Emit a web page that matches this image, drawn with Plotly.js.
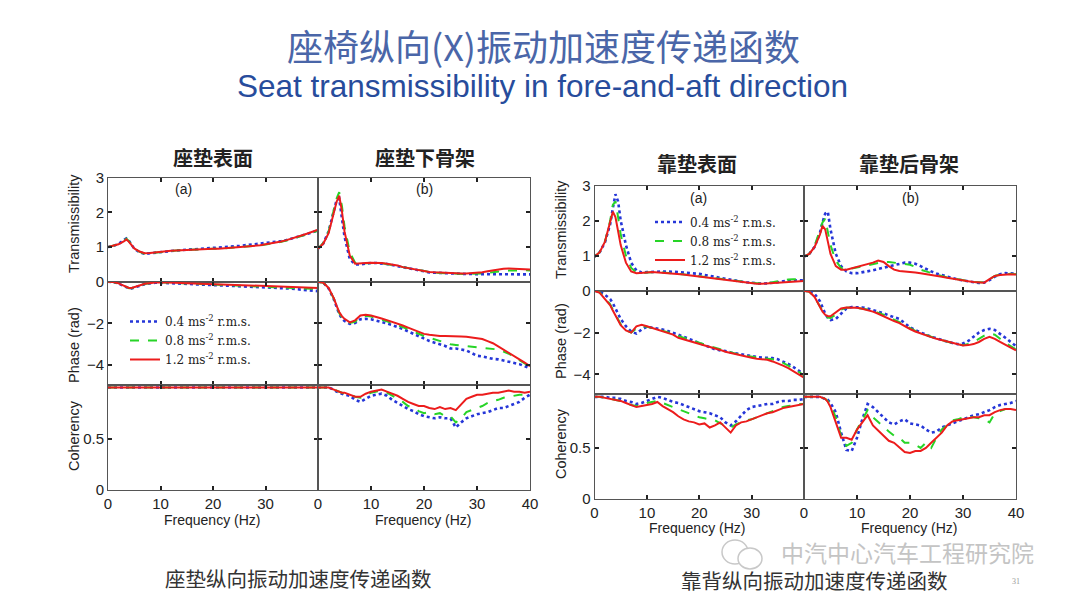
<!DOCTYPE html>
<html><head><meta charset="utf-8">
<script src="https://cdn.plot.ly/plotly-3.0.1.min.js"></script>
<style>html,body{margin:0;padding:0;background:#fff}#chart{width:1080px;height:606px}</style>
</head><body><div id="chart"></div>
<script>
// ---------- DATA ----------
const freq = [0,1,2,3,3.5,4,4.5,5,6,7,8,9,10,11,12,13,14,15,16,17,18,19,20,21,22,23,24,25,26,27,28,29,30,31,32,33,34,35,36,37,38,39,40];
const xTickValsA = [0,10,20,30];
const xTickValsB = [0,10,20,30,40];
const legendNames = ['0.4 ms<sup>-2</sup> r.m.s.','0.8 ms<sup>-2</sup> r.m.s.','1.2 ms<sup>-2</sup> r.m.s.'];
const panelTitles = ['座垫表面','座垫下骨架','靠垫表面','靠垫后骨架'];
const yTitles = ['Transmissibility','Phase (rad)','Coherency'];

// Seat surface (left a)
const seatSurf_T_04 = [1.00,1.03,1.09,1.18,1.25,1.18,1.05,0.95, 0.85,0.80,0.82,0.84,0.86,0.88,0.89,0.90,0.91,0.92, 0.93,0.94,0.95,0.96,0.97,0.98,0.99,1.00,1.01,1.03, 1.05,1.06,1.08,1.10,1.12,1.13,1.15,1.17,1.20,1.24, 1.28,1.33,1.38,1.43,1.48];
const seatSurf_T_08 = [1.00,1.03,1.08,1.17,1.24,1.17,1.05,0.96, 0.86,0.81,0.82,0.84,0.86,0.87,0.89,0.90,0.91,0.92, 0.92,0.93,0.93,0.94,0.95,0.95,0.96,0.97,0.98,0.99, 1.00,1.01,1.03,1.05,1.07,1.09,1.12,1.15,1.19,1.23, 1.27,1.32,1.37,1.42,1.47];
const seatSurf_T_12 = [1.00,1.03,1.08,1.16,1.22,1.15,1.04,0.96, 0.87,0.82,0.83,0.85,0.87,0.88,0.89,0.90,0.91,0.92, 0.92,0.93,0.93,0.94,0.95,0.95,0.96,0.97,0.98,0.99, 1.00,1.01,1.03,1.05,1.08,1.10,1.13,1.16,1.20,1.24, 1.29,1.34,1.39,1.45,1.50];
const seatSurf_P_04 = [0,-0.02,-0.09,-0.21,-0.28,-0.32,-0.32,-0.29, -0.20,-0.12,-0.07,-0.05,-0.05,-0.06,-0.07,-0.08,-0.09,-0.10, -0.12,-0.13,-0.14,-0.15,-0.17,-0.18,-0.19,-0.20,-0.21,-0.22, -0.23,-0.24,-0.25,-0.26,-0.27,-0.28,-0.29,-0.30,-0.32,-0.34, -0.36,-0.38,-0.40,-0.42,-0.45];
const seatSurf_P_08 = [0,-0.02,-0.08,-0.20,-0.27,-0.31,-0.31,-0.28, -0.19,-0.11,-0.06,-0.04,-0.03,-0.04,-0.05,-0.06,-0.07,-0.08, -0.09,-0.10,-0.11,-0.12,-0.13,-0.14,-0.15,-0.16,-0.17,-0.18, -0.19,-0.20,-0.21,-0.22,-0.23,-0.24,-0.25,-0.26,-0.27,-0.28, -0.29,-0.30,-0.31,-0.33,-0.35];
const seatSurf_P_12 = [0,-0.02,-0.08,-0.20,-0.27,-0.30,-0.30,-0.27, -0.18,-0.10,-0.06,-0.04,-0.03,-0.03,-0.04,-0.05,-0.06,-0.07, -0.08,-0.09,-0.10,-0.10,-0.11,-0.12,-0.12,-0.13,-0.14,-0.15, -0.16,-0.17,-0.18,-0.19,-0.20,-0.20,-0.21,-0.22,-0.23,-0.24, -0.25,-0.26,-0.27,-0.28,-0.30];
const seatSurf_C_04 = [1,1,1,1,1,1,1,1, 1,1,1,1,1,1,1,1,1,1, 1,1,1,1,1,1,1,1,1,1, 1,1,1,1,1,1,1,1,1,1, 1,1,1,1,1];
const seatSurf_C_08 = [1,1,1,1,1,1,1,1, 1,1,1,1,1,1,1,1,1,1, 1,1,1,1,1,1,1,1,1,1, 1,1,1,1,1,1,1,1,1,1, 1,1,1,1,1];
const seatSurf_C_12 = [1,1,1,1,1,1,1,1, 1,1,1,1,1,1,1,1,1,1, 1,1,1,1,1,1,1,1,1,1, 1,1,1,1,1,1,1,1,1,1, 1,1,1,1,1];

// Seat frame (left b)
const seatFrame_T_04 = [0.95,1.10,1.45,2.05,2.35,2.40,1.90,1.30, 0.65,0.50,0.50,0.53,0.54,0.54,0.53,0.51,0.48,0.45, 0.41,0.38,0.35,0.32,0.29,0.27,0.26,0.25,0.24,0.23, 0.23,0.22,0.22,0.22,0.22,0.22,0.22,0.21,0.22,0.22, 0.22,0.22,0.22,0.21,0.21];
const seatFrame_T_08 = [0.95,1.12,1.45,2.10,2.40,2.58,2.20,1.60, 0.85,0.55,0.51,0.53,0.54,0.54,0.53,0.51,0.49,0.46, 0.42,0.39,0.36,0.33,0.30,0.28,0.26,0.25,0.24,0.23, 0.23,0.23,0.22,0.23,0.23,0.24,0.26,0.28,0.30,0.31, 0.32,0.32,0.33,0.33,0.32];
const seatFrame_T_12 = [0.95,1.10,1.40,2.00,2.30,2.48,2.05,1.45, 0.75,0.52,0.52,0.54,0.55,0.55,0.54,0.52,0.50,0.47, 0.42,0.39,0.36,0.33,0.30,0.28,0.27,0.26,0.25,0.24, 0.24,0.24,0.24,0.25,0.25,0.27,0.30,0.33,0.35,0.37, 0.38,0.37,0.38,0.36,0.35];
const seatFrame_P_04 = [0,-0.05,-0.32,-0.85,-1.20,-1.55,-1.75,-1.88, -2.02,-1.98,-1.80,-1.78,-1.80,-1.86,-1.93,-2.00,-2.08,-2.16, -2.27,-2.38,-2.50,-2.62,-2.75,-2.84,-2.92,-3.00,-3.08,-3.20, -3.20,-3.25,-3.30,-3.42,-3.55,-3.58,-3.65,-3.70,-3.72,-3.77, -3.82,-3.90,-3.95,-4.05,-4.15];
const seatFrame_P_08 = [0,-0.05,-0.30,-0.82,-1.18,-1.50,-1.70,-1.82, -1.98,-1.92,-1.68,-1.63,-1.67,-1.73,-1.82,-1.90,-1.98,-2.07, -2.17,-2.28,-2.40,-2.50,-2.60,-2.68,-2.76,-2.84,-2.92,-3.00, -3.03,-3.06,-3.10,-3.12,-3.15,-3.17,-3.20,-3.22,-3.25,-3.35, -3.45,-3.60,-3.75,-3.92,-4.10];
const seatFrame_P_12 = [0,-0.05,-0.30,-0.80,-1.15,-1.45,-1.65,-1.78, -1.95,-1.85,-1.62,-1.58,-1.62,-1.68,-1.76,-1.84,-1.92,-2.00, -2.10,-2.20,-2.31,-2.40,-2.50,-2.54,-2.58,-2.60,-2.60,-2.62, -2.62,-2.63,-2.64,-2.67,-2.70,-2.75,-2.85,-2.95,-3.10,-3.25, -3.40,-3.55,-3.70,-3.88,-4.05];
const seatFrame_C_04 = [1.00,1.00,1.00,0.98,0.96,0.95,0.94,0.93, 0.92,0.88,0.86,0.89,0.92,0.93,0.94,0.92,0.88,0.85, 0.82,0.79,0.77,0.74,0.72,0.71,0.70,0.71,0.70,0.70, 0.61,0.66,0.70,0.72,0.74,0.75,0.76,0.78,0.80,0.80, 0.82,0.84,0.86,0.90,0.93];
const seatFrame_C_08 = [1.00,1.00,1.00,0.98,0.97,0.96,0.95,0.94, 0.93,0.91,0.90,0.92,0.95,0.96,0.97,0.95,0.92,0.89, 0.86,0.82,0.80,0.77,0.75,0.76,0.74,0.75,0.72,0.72, 0.66,0.70,0.76,0.78,0.80,0.82,0.85,0.87,0.88,0.90, 0.91,0.92,0.93,0.93,0.94];
const seatFrame_C_12 = [1.00,1.00,1.00,0.98,0.97,0.96,0.95,0.95, 0.93,0.91,0.91,0.94,0.96,0.97,0.98,0.96,0.94,0.92, 0.89,0.86,0.84,0.82,0.82,0.80,0.79,0.81,0.79,0.80, 0.78,0.84,0.89,0.91,0.93,0.93,0.94,0.95,0.95,0.96, 0.97,0.96,0.96,0.95,0.96];

// Backrest surface (right a)
const backSurf_T_04 = [0.97,1.10,1.38,1.90,2.35,2.75,2.55,2.00, 1.30,0.80,0.58,0.52,0.53,0.54,0.55,0.55,0.55,0.54, 0.53,0.52,0.51,0.50,0.48,0.45,0.42,0.39,0.36,0.33, 0.30,0.28,0.26,0.24,0.22,0.21,0.20,0.21,0.22,0.24, 0.27,0.29,0.30,0.30,0.30];
const backSurf_T_08 = [0.97,1.10,1.40,2.00,2.45,2.55,2.10,1.60, 1.00,0.65,0.52,0.50,0.52,0.53,0.53,0.52,0.51,0.50, 0.49,0.47,0.45,0.43,0.41,0.39,0.37,0.35,0.33,0.31, 0.29,0.27,0.25,0.23,0.22,0.21,0.21,0.22,0.24,0.27, 0.30,0.32,0.33,0.33,0.33];
const backSurf_T_12 = [0.97,1.10,1.40,1.95,2.25,2.10,1.70,1.30, 0.80,0.55,0.50,0.50,0.52,0.53,0.52,0.52,0.50,0.50, 0.48,0.46,0.44,0.42,0.40,0.38,0.36,0.34,0.32,0.30, 0.28,0.26,0.24,0.22,0.21,0.20,0.20,0.21,0.22,0.24, 0.26,0.27,0.28,0.28,0.28];
const backSurf_P_04 = [0,-0.05,-0.20,-0.40,-0.60,-0.85,-1.10,-1.35, -1.70,-1.95,-2.05,-1.85,-1.72,-1.76,-1.80,-1.86,-1.93,-2.00, -2.10,-2.20,-2.30,-2.40,-2.50,-2.60,-2.70,-2.80,-2.85,-2.88, -2.95,-3.00,-3.05,-3.10,-3.14,-3.17,-3.20,-3.20,-3.22,-3.28, -3.38,-3.50,-3.65,-3.82,-4.00];
const backSurf_P_08 = [0,-0.08,-0.35,-0.65,-0.90,-1.15,-1.40,-1.60, -1.88,-2.00,-1.80,-1.68,-1.72,-1.78,-1.83,-1.90,-1.98,-2.07, -2.17,-2.25,-2.33,-2.42,-2.50,-2.57,-2.65,-2.72,-2.80,-2.88, -2.95,-3.02,-3.08,-3.12,-3.15,-3.18,-3.20,-3.22,-3.28,-3.36, -3.45,-3.58,-3.72,-3.88,-4.05];
const backSurf_P_12 = [0,-0.10,-0.40,-0.70,-0.95,-1.20,-1.45,-1.65, -1.90,-2.00,-1.70,-1.63,-1.70,-1.78,-1.85,-1.93,-2.02,-2.10, -2.25,-2.32,-2.38,-2.45,-2.52,-2.60,-2.68,-2.75,-2.83,-2.92, -2.98,-3.05,-3.10,-3.15,-3.20,-3.25,-3.28,-3.30,-3.38,-3.47, -3.58,-3.70,-3.85,-4.00,-4.15];
const backSurf_C_04 = [1.00,1.00,1.00,0.99,0.99,0.99,0.98,0.98, 0.96,0.95,0.93,0.94,0.96,0.98,1.00,0.99,0.97,0.95, 0.94,0.92,0.90,0.88,0.86,0.85,0.84,0.82,0.80,0.75, 0.72,0.76,0.82,0.87,0.90,0.91,0.92,0.93,0.93,0.95, 0.96,0.96,0.97,0.97,0.98];
const backSurf_C_08 = [1.00,1.00,0.99,0.98,0.98,0.97,0.97,0.96, 0.94,0.92,0.91,0.92,0.94,0.95,0.96,0.94,0.92,0.90, 0.88,0.86,0.84,0.82,0.80,0.79,0.78,0.77,0.74,0.72, 0.70,0.73,0.75,0.77,0.78,0.80,0.82,0.84,0.86,0.88, 0.90,0.91,0.92,0.93,0.93];
const backSurf_C_12 = [1.00,1.00,0.99,0.98,0.98,0.97,0.97,0.96, 0.94,0.92,0.90,0.91,0.92,0.93,0.95,0.91,0.88,0.85, 0.81,0.78,0.76,0.75,0.73,0.74,0.70,0.72,0.75,0.70, 0.65,0.72,0.75,0.76,0.78,0.80,0.82,0.84,0.85,0.87, 0.89,0.90,0.91,0.92,0.93];

// Backrest frame (right b)
const backFrame_T_04 = [0.97,1.05,1.25,1.65,1.95,2.20,2.25,1.75, 1.05,0.70,0.55,0.50,0.50,0.52,0.55,0.58,0.62,0.66, 0.70,0.74,0.78,0.80,0.80,0.77,0.70,0.62,0.55,0.49, 0.44,0.40,0.36,0.32,0.29,0.26,0.23,0.22,0.23,0.30, 0.40,0.47,0.50,0.50,0.49];
const backFrame_T_08 = [0.97,1.05,1.28,1.70,1.95,2.05,1.70,1.30, 0.85,0.65,0.60,0.63,0.66,0.69,0.72,0.76,0.80,0.82, 0.82,0.80,0.78,0.77,0.74,0.68,0.60,0.55,0.50,0.46, 0.42,0.38,0.35,0.32,0.30,0.27,0.25,0.24,0.24,0.32, 0.42,0.46,0.48,0.48,0.47];
const backFrame_T_12 = [0.97,1.05,1.25,1.60,1.85,1.75,1.40,1.05, 0.70,0.60,0.60,0.64,0.67,0.70,0.74,0.80,0.86,0.82, 0.70,0.60,0.56,0.55,0.55,0.52,0.50,0.48,0.46,0.43, 0.40,0.37,0.34,0.31,0.29,0.27,0.25,0.23,0.23,0.33, 0.42,0.45,0.47,0.47,0.46];
const backFrame_P_04 = [0,-0.02,-0.15,-0.50,-0.80,-1.10,-1.30,-1.40, -1.35,-1.10,-0.85,-0.78,-0.78,-0.80,-0.85,-0.92,-1.00,-1.08, -1.18,-1.25,-1.35,-1.55,-1.75,-1.88,-2.00,-2.10,-2.20,-2.28, -2.35,-2.42,-2.50,-2.55,-2.52,-2.40,-2.20,-2.00,-1.88,-1.82, -1.88,-2.05,-2.25,-2.45,-2.65];
const backFrame_P_08 = [0,-0.05,-0.30,-0.78,-1.03,-1.20,-1.28,-1.30, -1.15,-0.90,-0.82,-0.80,-0.82,-0.85,-0.90,-0.97,-1.05,-1.15, -1.27,-1.38,-1.50,-1.65,-1.80,-1.92,-2.02,-2.12,-2.20,-2.28, -2.35,-2.42,-2.50,-2.58,-2.60,-2.55,-2.45,-2.30,-2.15,-2.05, -2.10,-2.30,-2.50,-2.65,-2.80];
const backFrame_P_12 = [0,-0.05,-0.30,-0.75,-1.00,-1.15,-1.22,-1.22, -1.05,-0.85,-0.80,-0.80,-0.82,-0.86,-0.92,-1.00,-1.10,-1.22, -1.35,-1.45,-1.55,-1.70,-1.83,-1.95,-2.05,-2.15,-2.22,-2.30, -2.37,-2.43,-2.50,-2.57,-2.62,-2.60,-2.55,-2.45,-2.30,-2.20, -2.30,-2.45,-2.60,-2.72,-2.85];
const backFrame_C_04 = [1.00,1.00,1.00,1.00,0.99,0.98,0.97,0.94, 0.85,0.65,0.48,0.47,0.60,0.78,0.93,0.90,0.85,0.80, 0.75,0.73,0.76,0.78,0.74,0.73,0.72,0.68,0.65,0.66, 0.70,0.72,0.74,0.76,0.78,0.80,0.82,0.83,0.85,0.87, 0.90,0.92,0.93,0.94,0.96];
const backFrame_C_08 = [1.00,1.00,1.00,1.00,0.99,0.98,0.96,0.92, 0.80,0.62,0.52,0.55,0.68,0.78,0.87,0.80,0.75,0.70, 0.66,0.62,0.60,0.55,0.55,0.53,0.50,0.55,0.50,0.60, 0.68,0.72,0.77,0.78,0.80,0.80,0.80,0.79,0.78,0.75, 0.84,0.86,0.88,0.88,0.89];
const backFrame_C_12 = [1.00,1.00,1.00,1.00,0.99,0.98,0.95,0.90, 0.75,0.60,0.60,0.58,0.68,0.75,0.82,0.72,0.67,0.62, 0.57,0.55,0.50,0.46,0.45,0.47,0.47,0.50,0.55,0.60, 0.65,0.72,0.76,0.77,0.78,0.79,0.80,0.80,0.82,0.82, 0.85,0.87,0.88,0.88,0.87];

// ---------- LAYOUT HELPERS ----------
const W = 1080, H = 606;
const px = v => v / W, py = v => 1 - v / H;
const xDom = {LA:[px(108),px(318)], LB:[px(318),px(530)], RA:[px(594.5),px(804)], RB:[px(804),px(1016)]};
const yDom = {
  LT:[py(281.7),py(177.7)], LP:[py(385),py(281.7)], LC:[py(490),py(385)],
  RT:[py(290.7),py(185.5)], RP:[py(394.3),py(290.7)], RC:[py(499),py(394.3)]
};

const kinds = {
  T:{range:[0,3], tickvals:[0,1,2,3]},
  P:{range:[-4.95,0], tickvals:[-4,-2]},
  C:{range:[0,1.025], tickvals:[0,0.5]}
};

const panels = [
  {xd:'LA', yd:'LT', k:'T', d:[seatSurf_T_04,seatSurf_T_08,seatSurf_T_12], left:true, bottom:false, a:true},
  {xd:'LB', yd:'LT', k:'T', d:[seatFrame_T_04,seatFrame_T_08,seatFrame_T_12], left:false, bottom:false},
  {xd:'LA', yd:'LP', k:'P', d:[seatSurf_P_04,seatSurf_P_08,seatSurf_P_12], left:true, bottom:false, a:true, legend:'legend'},
  {xd:'LB', yd:'LP', k:'P', d:[seatFrame_P_04,seatFrame_P_08,seatFrame_P_12], left:false, bottom:false},
  {xd:'LA', yd:'LC', k:'C', d:[seatSurf_C_04,seatSurf_C_08,seatSurf_C_12], left:true, bottom:true, a:true},
  {xd:'LB', yd:'LC', k:'C', d:[seatFrame_C_04,seatFrame_C_08,seatFrame_C_12], left:false, bottom:true},
  {xd:'RA', yd:'RT', k:'T', d:[backSurf_T_04,backSurf_T_08,backSurf_T_12], left:true, bottom:false, a:true, legend:'legend2'},
  {xd:'RB', yd:'RT', k:'T', d:[backFrame_T_04,backFrame_T_08,backFrame_T_12], left:false, bottom:false},
  {xd:'RA', yd:'RP', k:'P', d:[backSurf_P_04,backSurf_P_08,backSurf_P_12], left:true, bottom:false, a:true},
  {xd:'RB', yd:'RP', k:'P', d:[backFrame_P_04,backFrame_P_08,backFrame_P_12], left:false, bottom:false},
  {xd:'RA', yd:'RC', k:'C', d:[backSurf_C_04,backSurf_C_08,backSurf_C_12], left:true, bottom:true, a:true},
  {xd:'RB', yd:'RC', k:'C', d:[backFrame_C_04,backFrame_C_08,backFrame_C_12], left:false, bottom:true}
];

const styles = [
  {color:'#2536d8', dash:'dot', width:2.6},
  {color:'#27d427', dash:'dash', width:2},
  {color:'#ec1c1c', dash:'solid', width:2}
];

const tickFont = {family:'Liberation Sans, Arial, sans-serif', size:15, color:'#222'};
const legFont = {family:'DejaVu Serif, serif', size:12, color:'#222'};
const traces = [];
const layout = {
  width:W, height:H, margin:{l:0,r:0,t:0,b:0},
  paper_bgcolor:'#ffffff', plot_bgcolor:'#ffffff',
  showlegend:true,
  legend:{x:px(125), y:py(307), xanchor:'left', yanchor:'top', bgcolor:'rgba(0,0,0,0)',
          font:legFont, tracegroupgap:0, itemwidth:30},
  legend2:{x:px(650), y:py(207.5), xanchor:'left', yanchor:'top', bgcolor:'rgba(0,0,0,0)',
          font:legFont, tracegroupgap:0, itemwidth:30},
  annotations:[], shapes:[]
};

panels.forEach((p, i) => {
  const n = i + 1;
  const xs = n === 1 ? '' : String(n);
  const kd = kinds[p.k];
  layout['xaxis' + xs] = {
    domain:xDom[p.xd], anchor:'y' + xs, range:[0,40], tickmode:'array',
    tickvals:p.a ? xTickValsA : xTickValsB, showticklabels:p.bottom,
    ticks:'inside', ticklen:4, tickwidth:2, tickcolor:'#222',
    showline:true, linecolor:'#555', linewidth:1, mirror:'ticks',
    showgrid:false, zeroline:false, tickfont:tickFont, fixedrange:true
  };
  layout['yaxis' + xs] = {
    domain:yDom[p.yd], anchor:'x' + xs, range:kd.range, tickmode:'array',
    tickvals:kd.tickvals, showticklabels:p.left,
    ticks:'inside', ticklen:4, tickwidth:2, tickcolor:'#222',
    showline:true, linecolor:'#555', linewidth:1, mirror:'ticks',
    showgrid:false, zeroline:false, tickfont:tickFont, fixedrange:true
  };
  p.d.forEach((arr, s) => {
    const t = {
      type:'scatter', mode:'lines', x:freq, y:arr, xaxis:'x' + xs, yaxis:'y' + xs,
      line:{color:styles[s].color, dash:styles[s].dash, width:styles[s].width},
      name:legendNames[s], showlegend:!!p.legend, hoverinfo:'skip'
    };
    if (p.legend) t.legend = p.legend;
    traces.push(t);
  });
});

const ann = (text, x, y, font, extra) => Object.assign({
  text, x:px(x), y:py(y), xref:'paper', yref:'paper', showarrow:false,
  xanchor:'center', yanchor:'middle', font
}, extra || {});

const cjkBold = {family:'Noto Sans CJK SC, sans-serif', size:20, color:'#222', weight:'bold'};
const smallFont = {family:'Liberation Sans, Arial, sans-serif', size:14, color:'#222'};
const axTitleFont = {family:'Liberation Sans, Arial, sans-serif', size:14.5, color:'#222'};

layout.annotations.push(
  ann('座椅纵向(X)振动加速度传递函数', 543, 45, {family:'Noto Sans CJK SC, sans-serif', size:36, color:'#4a66a8'}),
  ann('Seat transmissibility in fore-and-aft direction', 542, 86, {family:'Liberation Sans, Arial, sans-serif', size:31.5, color:'#274c9c'}),
  ann(panelTitles[0], 213, 158, cjkBold),
  ann(panelTitles[1], 425, 158, cjkBold),
  ann(panelTitles[2], 697, 163, cjkBold),
  ann(panelTitles[3], 909, 163, cjkBold),
  ann('(a)', 183, 189, smallFont),
  ann('(b)', 424, 189, smallFont),
  ann('(a)', 698, 198, smallFont),
  ann('(b)', 910, 198, smallFont),
  ann(yTitles[0], 74, 224, axTitleFont, {textangle:-90}),
  ann(yTitles[1], 74, 345, axTitleFont, {textangle:-90}),
  ann(yTitles[2], 74, 436, axTitleFont, {textangle:-90}),
  ann(yTitles[0], 561, 230, axTitleFont, {textangle:-90}),
  ann(yTitles[1], 561, 341, axTitleFont, {textangle:-90}),
  ann(yTitles[2], 561, 444, axTitleFont, {textangle:-90}),
  ann('Frequency (Hz)', 212, 520, smallFont),
  ann('Frequency (Hz)', 423, 520, smallFont),
  ann('Frequency (Hz)', 697, 528, smallFont),
  ann('Frequency (Hz)', 909, 528, smallFont),
  ann('中汽中心汽车工程研究院', 907, 552, {family:'Noto Sans CJK SC, sans-serif', size:23, color:'#c4c4c4'}),
  ann('座垫纵向振动加速度传递函数', 298, 578, {family:'Noto Sans CJK SC, sans-serif', size:20.5, color:'#333'}),
  ann('靠背纵向振动加速度传递函数', 814, 580, {family:'Noto Sans CJK SC, sans-serif', size:20.5, color:'#333'}),
  ann('31', 1016, 581, {family:'Liberation Serif, serif', size:8, color:'#999'})
);

layout.shapes.push(
  {type:'circle', xref:'paper', yref:'paper', x0:px(722), x1:px(748), y0:py(564), y1:py(540), line:{color:'#c8c8c8', width:1.5}},
  {type:'circle', xref:'paper', yref:'paper', x0:px(738), x1:px(762), y0:py(569), y1:py(548), line:{color:'#c8c8c8', width:1.5}, fillcolor:'#ffffff'}
);

Plotly.newPlot('chart', traces, layout, {displayModeBar:false, staticPlot:true});
</script>
</body></html>
